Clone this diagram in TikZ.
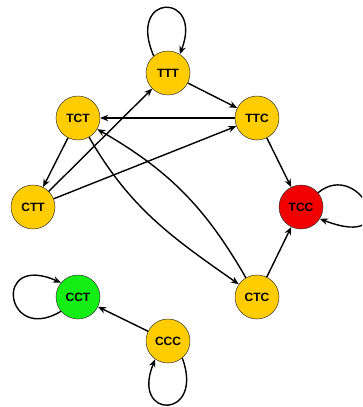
\documentclass[tikz,border=0pt]{standalone}
\usepackage{fontspec}
\setmainfont{Liberation Sans}
\usetikzlibrary{arrows.meta}
\definecolor{gold}{RGB}{255,204,0}
\definecolor{redc}{RGB}{240,0,0}
\definecolor{greenc}{RGB}{20,238,20}
\tikzset{
  state/.style={circle,draw=black!80,line width=0.5pt,minimum size=44pt,inner sep=0pt,font=\fontsize{12}{14}\selectfont\bfseries},
  edge/.style={line width=1.4pt,-{Stealth[length=8pt,width=6.5pt]}}
}
\begin{document}
\begin{tikzpicture}[x=1pt,y=-1pt]
\path[use as bounding box] (0,0) rectangle (362,407);
\begin{scope}
\clip (0,0) rectangle (362,407);
\node[state,fill=gold] (TTT) at (168,73) {TTT};
\node[state,fill=gold] (TCT) at (78,118) {TCT};
\node[state,fill=gold] (TTC) at (257,118) {TTC};
\node[state,fill=gold] (CTT) at (33,207) {CTT};
\node[state,fill=redc] (TCC) at (301,207) {TCC};
\node[state,fill=gold] (CTC) at (257,297) {CTC};
\node[state,fill=greenc] (CCT) at (78,297) {CCT};
\node[state,fill=gold] (CCC) at (168,341) {CCC};

\draw[edge] (TTT.130) .. controls (126,-8) and (204,-8) .. (TTT.58);
\draw[edge] (TTT) -- (TTC);
\draw[edge] (TTC) -- (TCT);
\draw[edge] (TTC) -- (TCC);
\draw[edge] (TCT) -- (CTT);
\draw[edge] (CTT) -- (TTT);
\draw[edge] (CTT) -- (TTC);
\draw[edge] (TCT) to[out=-60,in=145] (CTC);
\draw[edge] (CTC) to[out=120,in=-30] (TCT);
\draw[edge] (CTC) -- (TCC);
\draw[edge] (TCC.40) .. controls (360,158) and (405,252) .. (TCC.-32);
\draw[edge] (CCT.-140) .. controls (5,345) and (-8,252) .. (CCT.140);
\draw[edge] (CCC) -- (CCT);
\draw[edge] (CCC.-50) .. controls (205,420) and (130,420) .. (CCC.-125);
\end{scope}
\end{tikzpicture}
\end{document}
